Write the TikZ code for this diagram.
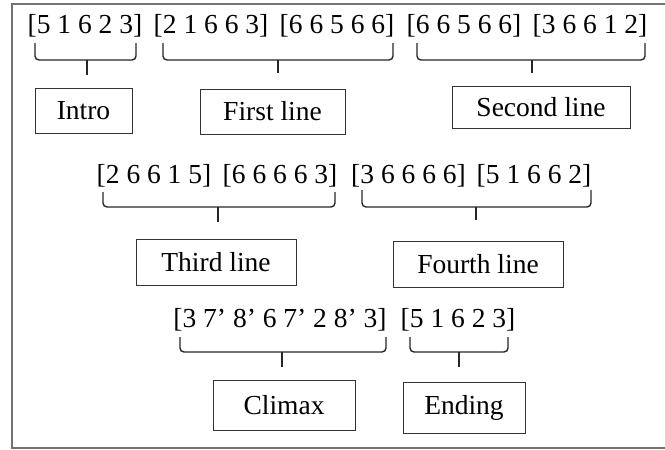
\documentclass[tikz,border=0pt]{standalone}
\usepackage{fontspec}
\setmainfont{Liberation Serif}
\begin{document}
\begin{tikzpicture}[x=1pt,y=-1pt,
  seq/.style={anchor=base,inner sep=0pt,font=\fontsize{27.5}{30}\selectfont},
  part/.style={draw=black!80,line width=1pt,inner sep=0pt,
    font=\fontsize{27.5}{30}\selectfont},
  brace/.style={draw=black!85,line width=1.4pt,rounded corners=4pt}]
\useasboundingbox (0,0) rectangle (665,450);
% outer frame (right side runs past the page edge)
\draw[black!55,line width=1.6pt] (672,4) -- (12,4) -- (12,448) -- (672,448);

% first row of note groups
\node[seq] (r1a) at (85,33)  {[5 1 6 2 3]};
\node[seq] (r1b) at (211,33) {[2 1 6 6 3]};
\node[seq] (r1c) at (337,33) {[6 6 5 6 6]};
\node[seq] (r1d) at (464,33) {[6 6 5 6 6]};
\node[seq] (r1e) at (590,33) {[3 6 6 1 2]};

% second row
\node[seq] (r2a) at (154,183) {[2 6 6 1 5]};
\node[seq] (r2b) at (280,183) {[6 6 6 6 3]};
\node[seq] (r2c) at (408.5,183) {[3 6 6 6 6]};
\node[seq] (r2d) at (534,183) {[5 1 6 6 2]};

% third row
\node[seq] (r3a) at (280,327) {[3 7’ 8’ 6 7’ 2 8’ 3]};
\node[seq] (r3b) at (458,327) {[5 1 6 2 3]};

% section boxes
\node[part,minimum width=97pt,minimum height=45pt]  (intro)  at (83.5,110.5) {Intro};
\node[part,minimum width=145pt,minimum height=45pt] (first)  at (272.5,111.5) {First line};
\node[part,minimum width=178pt,minimum height=42pt] (second) at (541,107) {Second line};
\node[part,minimum width=160pt,minimum height=46pt] (third)  at (216,262) {Third line};
\node[part,minimum width=170pt,minimum height=46pt] (fourth) at (478,264) {Fourth line};
\node[part,minimum width=142pt,minimum height=50pt] (climax) at (284,405) {Climax};
\node[part,minimum width=122pt,minimum height=51pt] (ending) at (464,407.5) {Ending};

% braces: left x, right x, top y, bar y, stem x, stem end y
\newcommand\groupbrace[6]{%
  \draw[brace] (#1,#3) -- (#1,#4) -- (#2,#4) -- (#2,#3);
  \draw[brace] (#5,#4) -- (#5,#6);}
\groupbrace{35}{136}{43}{60}{87}{75}
\groupbrace{163}{393}{43}{60}{278}{73}
\groupbrace{417}{645}{43}{60}{532}{73}
\groupbrace{103}{335}{192}{207}{218}{222}
\groupbrace{362}{591}{190}{207}{476}{220}
\groupbrace{180}{386}{337}{352}{282}{367}
\groupbrace{410}{508}{337}{352}{459}{367}
\end{tikzpicture}
\end{document}
